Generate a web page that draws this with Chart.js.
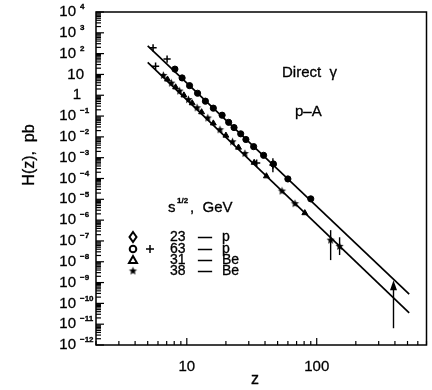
<!DOCTYPE html>
<html>
<head>
<meta charset="utf-8">
<script src="https://cdn.jsdelivr.net/npm/chart.js@4.4.0/dist/chart.umd.min.js"></script>
<style>
  html, body { margin: 0; padding: 0; background: #fff; }
  #wrap { width: 432px; height: 390px; }
</style>
</head>
<body>
<div id="wrap"><canvas id="chart" width="432" height="390"></canvas></div>
<script>
// Direct photon production in p-A, H(z) vs z (log-log)

// axis ranges and tick labels
const zRange = [2, 700];
const hRange = [1e-12, 1e4];
const yExponents = [4, 3, 2, 1, 0, -1, -2, -3, -4, -5, -6, -7, -8, -9, -10, -11, -12];
const xTickLabels = [10, 100];

// fitted lines (upper: p targets, lower: Be targets)
const fitZ = [5, 515];
const upperFit = [234, 2.75e-10];
const lowerFit = [38, 3.5e-11];

// 63 GeV - p, circles
const circleZ = [8.1, 9.2, 10.5, 12.1, 13.9, 16, 18.7, 21, 23.1, 26, 28.5, 32.7, 39, 46.4, 60, 90];
const circleH = [18, 6.8, 2.9, 1.25, 0.52, 0.24, 0.11, 0.05, 0.028, 0.014, 7.5e-3, 3.4e-3, 1.3e-3, 5e-4, 9.5e-5, 1.05e-5];

// 63 GeV - p, crosses
const crossZ = [5.5, 7.05, 46, 5.75, 34.5];
const crossH = [190, 55, 4.4e-4, 25, 5.5e-4];

// 31 GeV - Be, triangles
const triZ = [7.1, 8.2, 9.5, 11, 13, 16, 20, 25, 33, 41, 81];
const triH = [5.8, 2.44, 1.0, 0.42, 0.155, 0.045, 0.0117, 3.1e-3, 5.8e-4, 1.3e-4, 2.2e-6];

// 38 GeV - Be, stars
const starZ = [6.6, 7.6, 8.8, 10.3, 12, 14.5, 18, 22.5, 28, 54, 68, 128, 150];
const starH = [9.0, 3.85, 1.6, 0.62, 0.25, 0.081, 0.022, 5.8e-3, 1.58e-3, 2.5e-5, 6.2e-6, 1.1e-7, 5.5e-8];

// error bars
const errZ = [46, 128, 150];
const errLow = [2e-4, 1.2e-8, 2.1e-8];
const errHigh = [9.5e-4, 3.3e-7, 1.5e-7];

// upper limit arrow
const limZ = [390];
const limFrom = [6.4e-12];
const limTo = [1.3e-9];

const FONT = '"Liberation Sans", Arial, sans-serif';

function pts(xs, ys) {
    return xs.map(function(v, i) { return { x: v, y: ys[i] }; });
}

// filled star marker
function makeStar(r) {
    const c = document.createElement('canvas');
    const s = Math.ceil(r * 2 + 2);
    c.width = s; c.height = s;
    const g = c.getContext('2d');
    g.beginPath();
    for (let i = 0; i < 10; i++) {
        const rr = i % 2 === 0 ? r : r * 0.45;
        const ang = -Math.PI / 2 + i * Math.PI / 5;
        const px = s / 2 + rr * Math.cos(ang);
        const py = s / 2 + rr * Math.sin(ang);
        if (i === 0) g.moveTo(px, py); else g.lineTo(px, py);
    }
    g.closePath();
    g.fillStyle = '#000';
    g.fill();
    return c;
}
const starImg = makeStar(4.3);

function line(ctx, x1, y1, x2, y2) {
    ctx.beginPath();
    ctx.moveTo(x1, y1);
    ctx.lineTo(x2, y2);
    ctx.stroke();
}

// slightly heavier, scan-like text
function text(ctx, s, x, y) {
    ctx.fillText(s, x, y);
    ctx.lineWidth = 0.3;
    ctx.strokeText(s, x, y);
}

const framePlugin = {
    id: 'frame',
    beforeDatasetsDraw(chart) {
        const ctx = chart.ctx;
        const x = chart.scales.x, y = chart.scales.y;
        ctx.save();
        ctx.strokeStyle = '#000';
        ctx.lineWidth = 1.4;
        // error bars
        errZ.forEach(function(z, i) {
            const px = x.getPixelForValue(z);
            line(ctx, px, y.getPixelForValue(errLow[i]), px, y.getPixelForValue(errHigh[i]));
        });
        // upper limit arrow
        limZ.forEach(function(z, i) {
            const px = x.getPixelForValue(z);
            const y1 = y.getPixelForValue(limFrom[i]);
            const y2 = y.getPixelForValue(limTo[i]);
            line(ctx, px, y1, px, y2 + 6);
            ctx.beginPath();
            ctx.moveTo(px, y2);
            ctx.lineTo(px - 3.5, y2 + 10);
            ctx.lineTo(px + 3.5, y2 + 10);
            ctx.closePath();
            ctx.fillStyle = '#000';
            ctx.fill();
        });
        ctx.restore();
    },
    afterDraw(chart) {
        const ctx = chart.ctx;
        const a = chart.chartArea;
        const x = chart.scales.x, y = chart.scales.y;
        ctx.save();
        ctx.strokeStyle = '#000';
        ctx.fillStyle = '#000';
        ctx.lineWidth = 1.5;
        ctx.strokeRect(a.left, a.top, a.right - a.left, a.bottom - a.top);

        // y ticks (inside, left)
        ctx.lineWidth = 1.2;
        for (let e = -12; e <= 4; e++) {
            for (let m = 1; m <= 9; m++) {
                const v = m * Math.pow(10, e);
                if (v > hRange[1] * 1.0001) break;
                const py = y.getPixelForValue(v);
                const len = m === 1 ? 8 : 5;
                line(ctx, a.left, py, a.left + len, py);
            }
        }
        // x ticks (inside, bottom)
        for (let e = 0; e <= 2; e++) {
            for (let m = 1; m <= 9; m++) {
                const v = m * Math.pow(10, e);
                if (v < zRange[0] || v > zRange[1]) continue;
                const px = x.getPixelForValue(v);
                const len = m === 1 ? 7 : 4;
                line(ctx, px, a.bottom, px, a.bottom - len);
            }
        }

        // y tick labels
        ctx.textBaseline = 'middle';
        yExponents.forEach(function(e) {
            const py = y.getPixelForValue(Math.pow(10, e));
            ctx.font = '15px ' + FONT;
            ctx.textAlign = 'right';
            if (e === 1) {
                text(ctx, '10', 84, py);
            } else if (e === 0) {
                text(ctx, '1', 81, py);
            } else {
                text(ctx, '10', 76, py);
                ctx.font = 'bold 8px ' + FONT;
                ctx.textAlign = 'left';
                text(ctx, e < 0 ? '\u2212' + (-e) : String(e), 80, py - 5);
            }
        });

        // x tick labels
        ctx.font = '15px ' + FONT;
        ctx.textAlign = 'center';
        xTickLabels.forEach(function(v) {
            text(ctx, String(v), x.getPixelForValue(v), 367);
        });
        ctx.font = '16px ' + FONT;
        text(ctx, 'z', 255, 380);

        // y title
        ctx.save();
        ctx.translate(30, 155);
        ctx.rotate(-Math.PI / 2);
        ctx.font = '16px ' + FONT;
        ctx.textAlign = 'center';
        text(ctx, 'H(z),  pb', 0, 0);
        ctx.restore();

        // annotations
        ctx.textAlign = 'left';
        ctx.font = '15px ' + FONT;
        text(ctx, 'Direct  \u03b3', 282, 73);
        text(ctx, 'p\u2013A', 295, 112);

        // legend header
        text(ctx, 's', 168, 208);
        ctx.font = 'bold 8px ' + FONT;
        text(ctx, '1/2', 177, 201);
        ctx.font = '15px ' + FONT;
        text(ctx, ',  GeV', 190, 208);

        // legend rows
        const rows = [['23', 'p', 237], ['63', 'p', 249], ['31', 'Be', 260], ['38', 'Be', 271]];
        rows.forEach(function(r) {
            ctx.font = '14px ' + FONT;
            text(ctx, r[0], 170, r[2]);
            text(ctx, '\u2014', 198, r[2]);
            text(ctx, r[1], 222, r[2]);
        });

        // legend markers
        ctx.lineWidth = 2;
        // diamond
        ctx.beginPath();
        ctx.moveTo(133, 232); ctx.lineTo(136.5, 237); ctx.lineTo(133, 242); ctx.lineTo(129.5, 237);
        ctx.closePath(); ctx.stroke();
        // circle
        ctx.beginPath();
        ctx.arc(133, 249, 3.3, 0, Math.PI * 2);
        ctx.stroke();
        // plus
        ctx.lineWidth = 1.5;
        line(ctx, 146, 249, 154, 249);
        line(ctx, 150, 245, 150, 253);
        // triangle
        ctx.lineWidth = 2;
        ctx.beginPath();
        ctx.moveTo(133, 256); ctx.lineTo(137, 263); ctx.lineTo(129, 263);
        ctx.closePath(); ctx.stroke();
        // star
        ctx.drawImage(starImg, 133 - starImg.width / 2, 271 - starImg.height / 2);

        ctx.restore();
    }
};

new Chart(document.getElementById('chart'), {
    type: 'scatter',
    data: {
        datasets: [
            {
                label: 'fit p',
                data: pts(fitZ, upperFit),
                showLine: true,
                borderColor: '#000',
                borderWidth: 1.7,
                pointRadius: 0
            },
            {
                label: 'fit Be',
                data: pts(fitZ, lowerFit),
                showLine: true,
                borderColor: '#000',
                borderWidth: 1.7,
                pointRadius: 0
            },
            {
                label: '63 - p (o)',
                data: pts(circleZ, circleH),
                pointStyle: 'circle',
                pointRadius: 3.1,
                backgroundColor: '#000',
                borderColor: '#000'
            },
            {
                label: '63 - p (+)',
                data: pts(crossZ, crossH),
                pointStyle: 'cross',
                pointRadius: 3.6,
                borderWidth: 1.5,
                borderColor: '#000'
            },
            {
                label: '31 - Be',
                data: pts(triZ, triH),
                pointStyle: 'triangle',
                pointRadius: 3.4,
                backgroundColor: '#000',
                borderColor: '#000'
            },
            {
                label: '38 - Be',
                data: pts(starZ, starH),
                pointStyle: starImg
            }
        ]
    },
    options: {
        responsive: false,
        animation: false,
        devicePixelRatio: 1,
        layout: { padding: { left: 96, top: 12, right: 2, bottom: 45 } },
        plugins: {
            legend: { display: false },
            tooltip: { enabled: false }
        },
        scales: {
            x: { type: 'logarithmic', min: zRange[0], max: zRange[1], display: false },
            y: { type: 'logarithmic', min: hRange[0], max: hRange[1], display: false }
        }
    },
    plugins: [framePlugin]
});
</script>
</body>
</html>
